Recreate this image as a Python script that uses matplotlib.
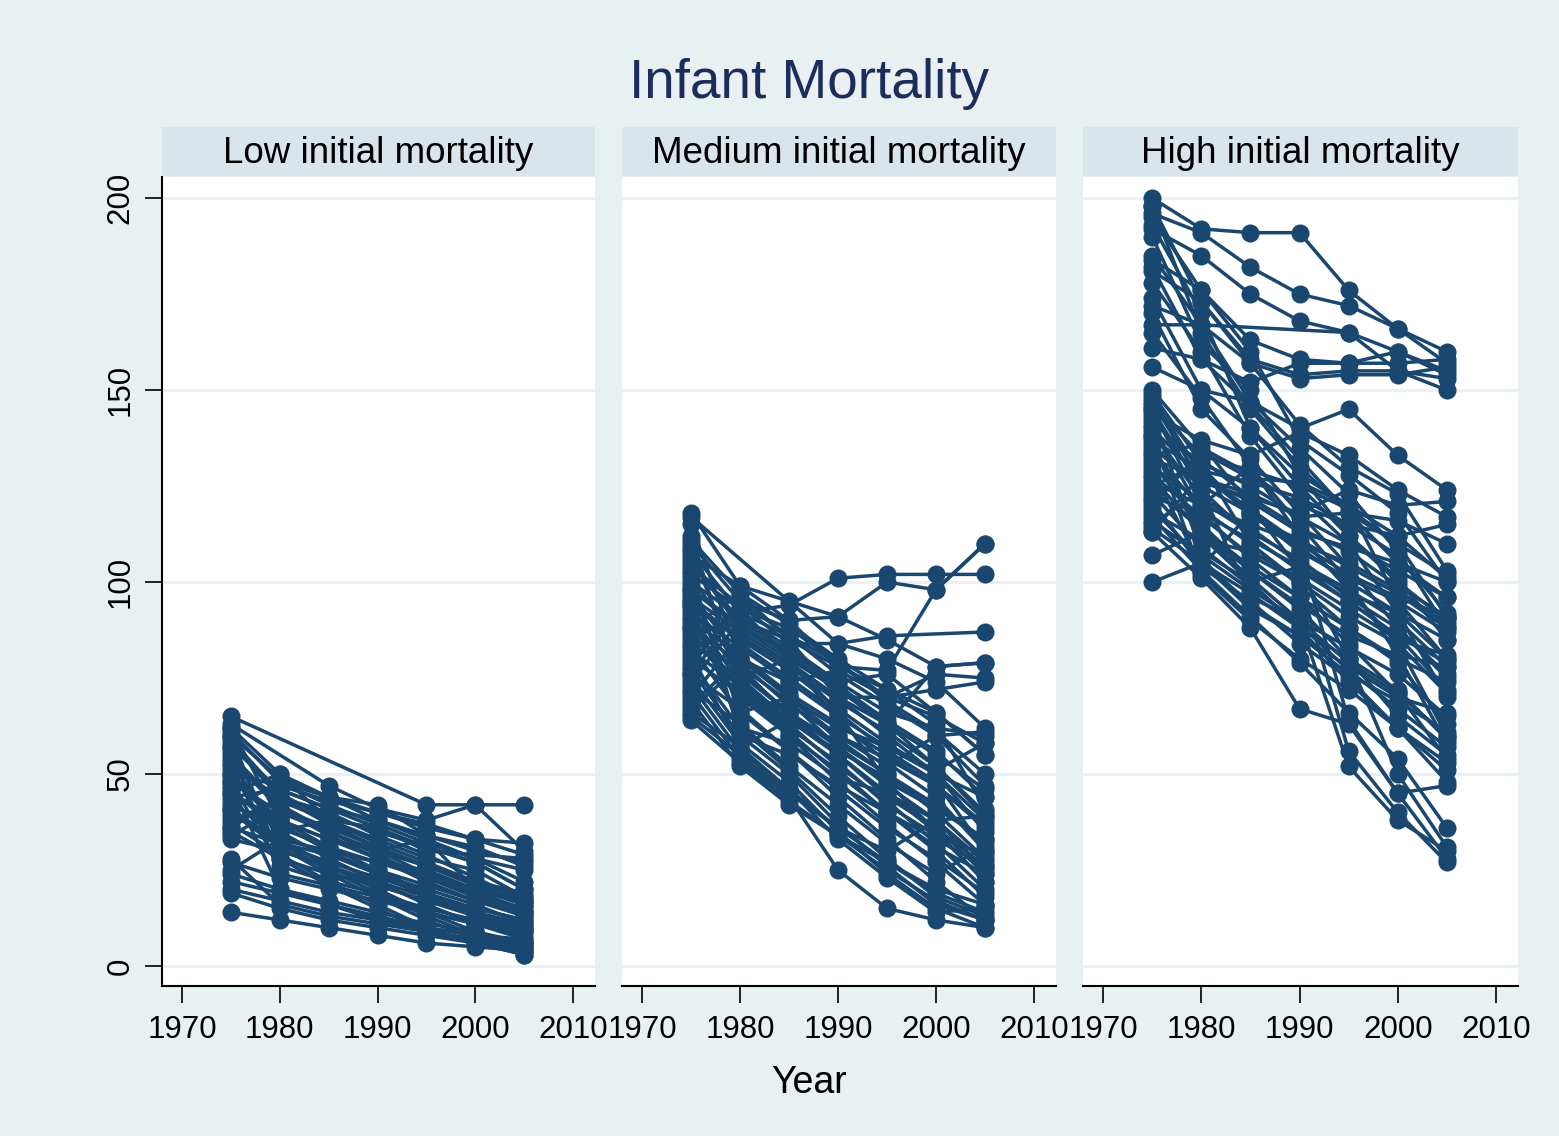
import numpy as np
import matplotlib
matplotlib.use("Agg")
import matplotlib.pyplot as plt

nan = np.nan

years = [1975, 1980, 1985, 1990, 1995, 2000, 2005]
panel_titles = ["Low initial mortality", "Medium initial mortality", "High initial mortality"]

# infant mortality per country (nan = missing year)
low = [
    [65, nan, nan, nan, 42, 42, 42],
    [63, nan, 47, 41, 38, 42, 30],
    [62, 50, 44, 40, 36, 33, 29],
    [61, 48, 42, 37, 32, 28, 25],
    [60, 28, 24, 21, 17, 13, 10],
    [59, 45, 38, 32, 27, 22, 18],
    [58, 44, 37, 31, 26, 21, 17],
    [57, 46, 41, 38, 34, 31, 26],
    [56, 24, 21, 18, 14, 11, 8],
    [55, 42, 35, 29, 23, 18, 14],
    [54, 41, 34, 28, 22, 17, 13],
    [53, 35, 38, 30, 33, 20, 17],
    [52, 44, 39, 35, 31, 27, 20],
    [51, 30, 26, 21, 17, 15, 12],
    [50, 38, 31, 25, 19, 14, 10],
    [49, 37, 30, 24, 18, 13, 9],
    [48, 40, 35, 30, 26, 22, 19],
    [47, 20, 16, 12, 10, 8, 7],
    [46, 35, 28, 22, 16, 11, 7],
    [45, 38, 33, 28, 24, 20, 16],
    [44, 46, 41, 36, 31, 27, 20],
    [43, 33, 26, 20, 14, 9, 5],
    [42, 36, 31, 27, 23, 19, 15],
    [41, 32, 25, 19, 13, 8, 5],
    [40, 31, 24, 18, 12, 7, 4],
    [39, 34, 29, 25, 21, 17, 14],
    [38, 43, 38, 33, 28, 25, 18],
    [37, 29, 22, 16, 10, 6, 3],
    [36, 32, 27, 23, 19, 15, 12],
    [35, 28, 21, 15, 9, 6, 3],
    [34, 41, 36, 31, 26, 22, 16],
    [33, 30, 26, 22, 18, 14, 11],
    [28, 16, 13, 11, 9, 7, 6],
    [27, 23, 20, 17, 14, 11, 9],
    [25, 33, 30, 27, 25, 20, 14],
    [24, 20, 17, 14, 11, 9, 6],
    [22, 19, 16, 13, 10, 8, 6],
    [20, 17, 14, 12, 9, 7, 5],
    [19, 15, 12, 10, 8, 6, 4],
    [14, 12, 10, 8, 6, 5, 4],
    [50, 47, 43, 40, 37, 33, 32],
    [60, 49, 44, 42, 34, 30, 27],
    [45, 50, 38, 36, 30, 29, 28],
    [62, 38, 33, 30, 24, 19, 13],
    [57, 32, 29, 24, 20, 16, 11],
    [41, 48, 44, 38, 33, 28, 22],
    [36, 44, 40, 34, 29, 23, 17],
    [48, 26, 22, 19, 15, 12, 9],
]

medium = [
    [117, nan, nan, 84, 80, 74, 62],
    [118, 99, 95, 91, 85, 78, 79],
    [112, 72, 66, 58, 50, 42, 33],
    [111, 97, 89, 80, 72, 66, 55],
    [110, 95, 86, 76, 68, 60, 47],
    [108, 92, 94, 101, 102, 102, 102],
    [107, 99, 90, 91, 100, 98, 110],
    [106, 88, 80, 72, 63, 52, 40],
    [105, 90, 85, 78, 77, 98, 110],
    [104, 94, 84, 84, 86, nan, 87],
    [103, 60, 55, 47, 40, 33, 26],
    [102, 93, 88, 79, 70, 76, 75],
    [101, 84, 75, 66, 56, 48, 30],
    [100, 91, 83, 74, 66, 62, 60],
    [99, 66, 70, 60, 54, 47, 36],
    [98, 89, 81, 72, 63, 55, 46],
    [97, 80, 70, 59, 50, 40, 28],
    [96, 87, 79, 70, 63, 78, 79],
    [95, 78, 69, 57, 47, 38, 25],
    [94, 85, 77, 67, 58, 50, 38],
    [93, 76, 66, 55, 45, 35, 22],
    [92, 83, 74, 65, 57, 51, 58],
    [91, 74, 63, 52, 43, 32, 20],
    [90, 81, 71, 63, 55, 47, 37],
    [89, 72, 61, 50, 40, 30, 18],
    [88, 79, 68, 60, 52, 60, 61],
    [87, 70, 60, 48, 37, 27, 16],
    [86, 77, 66, 57, 48, 41, 33],
    [85, 92, 86, 79, 69, 61, 50],
    [84, 75, 64, 55, 45, 36, 26],
    [83, 66, 56, 44, 33, 22, 12],
    [82, 73, 62, 53, 42, 34, 29],
    [81, 57, 64, 56, 49, 42, 32],
    [80, 71, 60, 51, 40, 31, 24],
    [79, 62, 51, 39, 28, 18, 13],
    [78, 95, 90, 78, 72, 63, 41],
    [77, 60, 50, 37, 26, 16, 12],
    [76, 67, 56, 46, 36, 28, 19],
    [75, 58, 48, 35, 24, 15, 10],
    [74, 90, 82, 73, 64, 56, 44],
    [73, 56, 46, 33, 23, 14, 15],
    [72, 63, 52, 42, 32, 24, 31],
    [71, 54, 44, 25, 15, 12, 10],
    [70, 86, 78, 69, 61, 52, 39],
    [69, 52, 42, 34, 27, 20, 16],
    [68, 80, 74, 77, 70, 65, 58],
    [66, 57, 46, 36, 30, 38, 39],
    [65, 55, 45, 36, 27, 19, 14],
    [64, 53, 43, 34, 25, 17, 12],
    [98, 88, 82, 74, 76, 66, 55],
    [95, 85, 79, 70, 70, 72, 74],
    [115, 80, 70, 62, 57, 50, 44],
    [94, 62, 58, 49, 45, 38, 27],
    [88, 97, 85, 70, 60, 50, 35],
    [76, 93, 80, 64, 53, 44, 30],
    [67, 78, 65, 55, 44, 36, 24],
    [109, 75, 80, 66, 48, 35, 22],
]

high = [
    [200, 192, 191, 191, 176, 166, 157],
    [196, 191, 182, 175, 172, 166, 160],
    [192, 185, 175, 168, 165, 160, 155],
    [184, 176, 163, 158, 157, 160, 154],
    [181, 173, 158, 154, 155, 155, 150],
    [172, 167, 157, 153, 154, 154, 156],
    [167, 167, nan, nan, 165, 155, 153],
    [161, 158, 152, 157, 157, 157, 158],
    [156, 150, 147, 140, 145, 133, 124],
    [198, 173, 157, 141, 130, 123, 103],
    [195, 176, 160, 137, 128, 118, 100],
    [185, 167, 147, 135, 123, 108, 88],
    [182, 158, 146, 132, 118, 110, 91],
    [174, 150, 140, 128, 112, 101, 85],
    [150, 135, 128, 120, 115, 112, 115],
    [149, 131, 125, 117, 110, 103, 96],
    [148, 128, 118, 109, 100, 92, 80],
    [147, 126, 122, 118, 124, 120, 121],
    [146, 133, 129, 125, 119, 110, 102],
    [145, 124, 112, 103, 95, 86, 72],
    [144, 137, 133, 139, 133, 124, 117],
    [143, 108, 100, 104, 95, 86, 79],
    [142, 130, 117, 111, 104, 97, 88],
    [141, 118, 106, 96, 84, 71, 54],
    [140, 127, 121, 113, 109, 105, 100],
    [139, 122, 114, 105, 98, 90, 78],
    [138, 132, 122, 114, 108, 99, 91],
    [137, 129, 126, 122, 115, 107, 92],
    [136, 112, 100, 88, 74, 62, 48],
    [135, 125, 118, 108, 101, 95, 87],
    [134, 119, 110, 99, 88, 79, 63],
    [133, 136, 120, 103, 80, 50, 31],
    [132, 127, 123, 117, 118, 116, 110],
    [131, 115, 103, 93, 80, 65, 55],
    [130, 121, 113, 106, 96, 88, 76],
    [129, 104, 118, 108, 64, 45, 28],
    [128, 117, 107, 100, 91, 84, 71],
    [127, 113, 101, 90, 79, 71, 60],
    [126, 120, 115, 110, 105, 98, 89],
    [125, 131, 110, 100, 56, 40, 27],
    [124, 114, 104, 96, 88, 80, 74],
    [123, 109, 99, 89, 77, 67, 57],
    [122, 118, 111, 104, 97, 92, 85],
    [121, 104, 95, 84, 75, 62, 51],
    [120, 134, 127, 126, 120, 112, 101],
    [119, 106, 94, 86, 78, 70, 66],
    [118, 111, 108, 101, 93, 85, 81],
    [117, 103, 91, 79, 66, 54, 36],
    [116, 107, 98, 90, 83, 76, 65],
    [115, 124, 96, 90, 52, 38, 30],
    [114, 105, 97, 88, 80, 72, 59],
    [113, 128, 119, 110, 102, 96, 91],
    [107, 113, 103, 94, 86, 81, 78],
    [100, 105, 93, 86, 76, 69, 61],
    [113, 101, 88, 67, 63, 45, 47],
    [198, 165, 145, 130, 118, 105, 96],
    [193, 170, 140, 125, 112, 100, 90],
    [190, 162, 150, 128, 120, 95, 80],
    [178, 160, 138, 122, 110, 92, 70],
    [170, 145, 132, 118, 104, 88, 75],
    [165, 148, 130, 112, 98, 84, 60],
    [145, 120, 130, 115, 100, 81, 58],
    [138, 102, 90, 80, 72, 62, 53],
]

navy = "#1a476f"
bg = "#e8f0f2"
strip = "#d8e5eb"
gridc = "#e9f1f3"

plt.rcParams["font.family"] = ["Liberation Sans", "DejaVu Sans"]

fig = plt.figure(figsize=(15.59, 11.36), dpi=100, facecolor=bg)
W, H = 1559.0, 1136.0

lefts = [162, 622, 1083]
rights = [595, 1056, 1518]
top, bottom = 177, 986

for i, data in enumerate([low, medium, high]):
    l, r = lefts[i], rights[i]
    ax = fig.add_axes([l / W, 1 - bottom / H, (r - l) / W, (bottom - top) / H])
    ax.set_facecolor("white")
    for s in data:
        s = np.array(s, dtype=float)
        ok = ~np.isnan(s)
        ax.plot(np.array(years)[ok], s[ok], "-o", color=navy, lw=2.5,
                ms=13, mew=0, zorder=3)
    ax.set_xlim(1967.95, 2012.25)
    ax.set_ylim(-5.2, 205.5)
    ax.set_xticks([1970, 1980, 1990, 2000, 2010])
    ax.set_yticks([0, 50, 100, 150, 200])
    for v in [0, 50, 100, 150, 200]:
        ax.axhline(v, color=gridc, lw=2.2, zorder=1)
    ax.tick_params(axis="x", direction="out", length=12, width=1.2,
                   labelsize=22.5, pad=9)
    for sp in ["top", "right"]:
        ax.spines[sp].set_visible(False)
    ax.spines["bottom"].set_linewidth(1.5)
    if i == 0:
        ax.spines["left"].set_linewidth(1.5)
        ax.tick_params(axis="y", direction="out", length=12, width=1.2,
                       labelsize=22.5, pad=7)
        for t in ax.get_yticklabels():
            t.set_rotation(90)
            t.set_va("center")
    else:
        ax.spines["left"].set_visible(False)
        ax.tick_params(axis="y", left=False, labelleft=False)

    hx = fig.add_axes([l / W, 1 - 176 / H, (r - l) / W, 49 / H])
    hx.set_facecolor(strip)
    hx.set_xticks([])
    hx.set_yticks([])
    for sp in hx.spines.values():
        sp.set_visible(False)
    hx.text(0.5, 0.45, panel_titles[i], ha="center", va="center",
            fontsize=26.5, transform=hx.transAxes)

fig.text(809 / W, 1 - 98 / H, "Infant Mortality", ha="center", va="baseline",
         fontsize=39.5, color="#1c2d5c")
fig.text(809 / W, 1 - 1093 / H, "Year", ha="center", va="baseline", fontsize=27)

fig.savefig("out.png", dpi=100, facecolor=bg)
